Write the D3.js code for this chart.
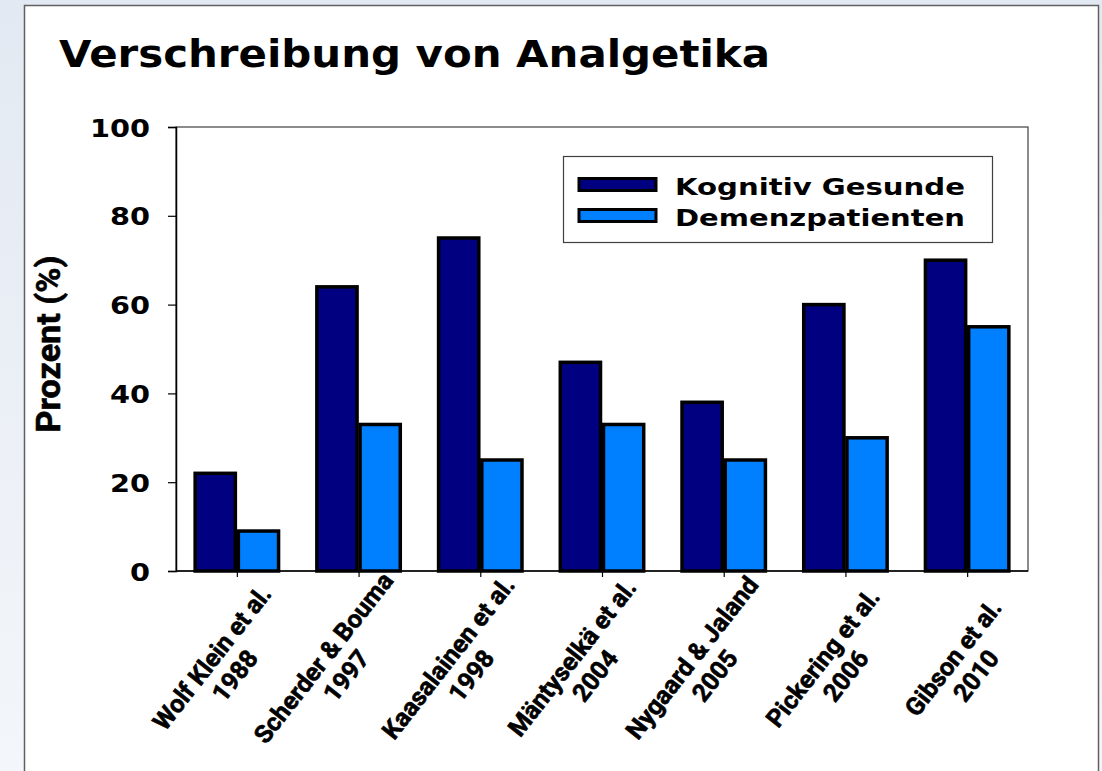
<!DOCTYPE html>
<html lang="de">
<head>
  <meta charset="UTF-8">
  <script src="https://d3js.org/d3.v7.min.js"></script>
  <title>Verschreibung von Analgetika</title>
  <style>
    body { margin: 0; }
  </style>
</head>
<body>
<script>
  // Daten
  let studien = ['Wolf Klein et al.|1988', 'Scherder & Bouma|1997', 'Kaasalainen et al.|1998',
    'Mäntyselkä et al.|2004', 'Nygaard & Jaland|2005', 'Pickering et al.|2006', 'Gibson et al.|2010']
  let serien = ['Kognitiv Gesunde', 'Demenzpatienten']
  let gesunde = [22, 64, 75, 47, 38, 60, 70]
  let demenz = [9, 33, 25, 33, 25, 30, 55]
  let yTicks = [0, 20, 40, 60, 80, 100]
  let farben = ['#000080', '#0080ff']

  let width = 1102
  let height = 771
  let plot = { left: 176, top: 127, right: 1028, bottom: 571 }

  let svg = d3.select('body')
    .append('svg')
    .attr('width', width)
    .attr('height', height)

  // Hintergrund
  let grad = svg.append('defs').append('linearGradient')
    .attr('id', 'bg').attr('x1', 0).attr('y1', 0).attr('x2', 0).attr('y2', 1)
  grad.append('stop').attr('offset', '0%').attr('stop-color', '#e3e9f2')
  grad.append('stop').attr('offset', '100%').attr('stop-color', '#f3f6fa')
  svg.append('rect').attr('width', width).attr('height', height).attr('fill', 'url(#bg)')
  svg.append('rect')
    .attr('x', 24.5).attr('y', 5.5).attr('width', 1074).attr('height', 780)
    .attr('fill', '#fff').attr('stroke', '#606060').attr('stroke-width', 1.5)

  // breitere Schrift nachbilden (Verdana-artig)
  function strecken(sel, k) {
    sel.each(function () {
      let w = this.getComputedTextLength()
      d3.select(this).attr('textLength', w * k).attr('lengthAdjust', 'spacingAndGlyphs')
    })
  }

  svg.append('text')
    .attr('x', 59).attr('y', 67)
    .attr('font-family', 'DejaVu Sans').attr('font-weight', 'bold').attr('font-size', 37)
    .attr('textLength', 711).attr('lengthAdjust', 'spacingAndGlyphs')
    .text('Verschreibung von Analgetika')

  let x0 = d3.scaleBand()
    .domain(studien)
    .range([plot.left, plot.right])
    .paddingInner(0.29)
    .paddingOuter(0.145)
  let x1 = d3.scaleBand()
    .domain(serien)
    .range([0, x0.bandwidth()])
  let y = d3.scaleLinear()
    .domain([0, 100])
    .range([plot.bottom, plot.top])

  // Rahmen des Plotbereichs
  svg.append('rect')
    .attr('x', plot.left).attr('y', plot.top)
    .attr('width', plot.right - plot.left).attr('height', plot.bottom - plot.top)
    .attr('fill', 'none').attr('stroke', '#404040').attr('stroke-width', 1.2)

  // Balken
  let gruppen = svg.append('g').selectAll('g')
    .data(studien)
    .enter()
    .append('g')
    .attr('transform', d => 'translate(' + x0(d) + ',0)')

  gruppen.selectAll('rect')
    .data((d, i) => [gesunde[i], demenz[i]])
    .enter()
    .append('rect')
    .attr('x', (d, j) => x1(serien[j]) + 1.5)
    .attr('width', x1.bandwidth() - 3)
    .attr('y', d => y(d))
    .attr('height', d => y(0) - y(d))
    .attr('fill', (d, j) => farben[j])
    .attr('stroke', '#000')
    .attr('stroke-width', 3.5)

  // y-Achse
  let yAxis = svg.append('g')
    .attr('transform', 'translate(' + plot.left + ',0)')
    .call(d3.axisLeft(y).tickValues(yTicks).tickSize(8).tickPadding(18))
  yAxis.select('.domain').attr('stroke', '#000').attr('stroke-width', 1.5)
  yAxis.selectAll('line').attr('stroke', '#000').attr('stroke-width', 1.2)
  yAxis.selectAll('text')
    .attr('font-family', 'DejaVu Sans').attr('font-weight', 'bold').attr('font-size', 25)
    .attr('fill', '#000').attr('dy', '0.36em')
    .call(strecken, 1.15)

  svg.append('text')
    .attr('transform', 'translate(60,344) rotate(-90)')
    .attr('text-anchor', 'middle')
    .attr('font-family', 'Roboto').attr('font-weight', 'bold').attr('font-size', 33)
    .attr('stroke', '#000').attr('stroke-width', 0.6)
    .attr('textLength', 177).attr('lengthAdjust', 'spacingAndGlyphs')
    .text('Prozent (%)')

  // x-Achse
  let mitte = d => x0(d) + x0.bandwidth() / 2
  let xAxis = svg.append('g')
    .attr('transform', 'translate(0,' + plot.bottom + ')')
    .call(d3.axisBottom(d3.scalePoint().domain(studien).range([mitte(studien[0]), mitte(studien[6])]))
      .tickSize(6).tickFormat(''))
  xAxis.select('.domain').attr('d', 'M' + plot.left + ',0H' + plot.right).attr('stroke', '#000').attr('stroke-width', 1.5)
  xAxis.selectAll('line').attr('stroke', '#000').attr('stroke-width', 1.2)

  // gedrehte zweizeilige Beschriftung
  let winkel = 52
  let rad = winkel * Math.PI / 180
  let kapHoehe = 17.5
  let zeile = 29
  let blockH = 54

  let labels = svg.append('g').selectAll('g')
    .data(studien)
    .enter()
    .append('g')

  let probe = labels.filter((d, i) => i === 0).append('text')
    .attr('font-family', 'Roboto').attr('font-weight', 'bold').attr('font-size', 25)
    .text(studien[0].split('|')[0])
  let k = 175 / probe.node().getComputedTextLength()
  probe.remove()

  labels.each(function (d) {
    let g = d3.select(this)
    let teile = d.split('|')
    let t = g.append('text')
      .attr('font-family', 'Roboto').attr('font-weight', 'bold').attr('font-size', 25)
      .attr('stroke', '#000').attr('stroke-width', 0.6)
    let l1 = t.append('tspan').attr('text-anchor', 'end').attr('x', 0).attr('y', kapHoehe).text(teile[0])
    let w = l1.node().getComputedTextLength()
    t.append('tspan').attr('text-anchor', 'middle').attr('x', -w / 2).attr('y', kapHoehe + zeile).text(teile[1])
    let L = w * k
    let ox = mitte(d) + 22
    let oy = 669 - (L / 2) * Math.sin(rad) - (blockH / 2) * Math.cos(rad)
    g.attr('transform', 'translate(' + ox + ',' + oy + ') rotate(' + (-winkel) + ') scale(' + k + ',1)')
  })

  // Legende
  let legend = svg.append('g')
  legend.append('rect')
    .attr('x', 563.5).attr('y', 156.5).attr('width', 429).attr('height', 86)
    .attr('fill', '#fff').attr('stroke', '#404040').attr('stroke-width', 1.2)
  let eintrag = legend.selectAll('g')
    .data(serien)
    .enter()
    .append('g')
    .attr('transform', (d, i) => 'translate(579,' + (178.5 + i * 31) + ')')
  eintrag.append('rect')
    .attr('width', 77).attr('height', 12)
    .attr('fill', (d, i) => farben[i])
    .attr('stroke', '#000').attr('stroke-width', 3)
  eintrag.append('text')
    .attr('x', 96).attr('y', 16)
    .attr('font-family', 'DejaVu Sans').attr('font-weight', 'bold').attr('font-size', 23)
    .attr('textLength', 290).attr('lengthAdjust', 'spacingAndGlyphs')
    .text(d => d)
</script>
</body>
</html>
